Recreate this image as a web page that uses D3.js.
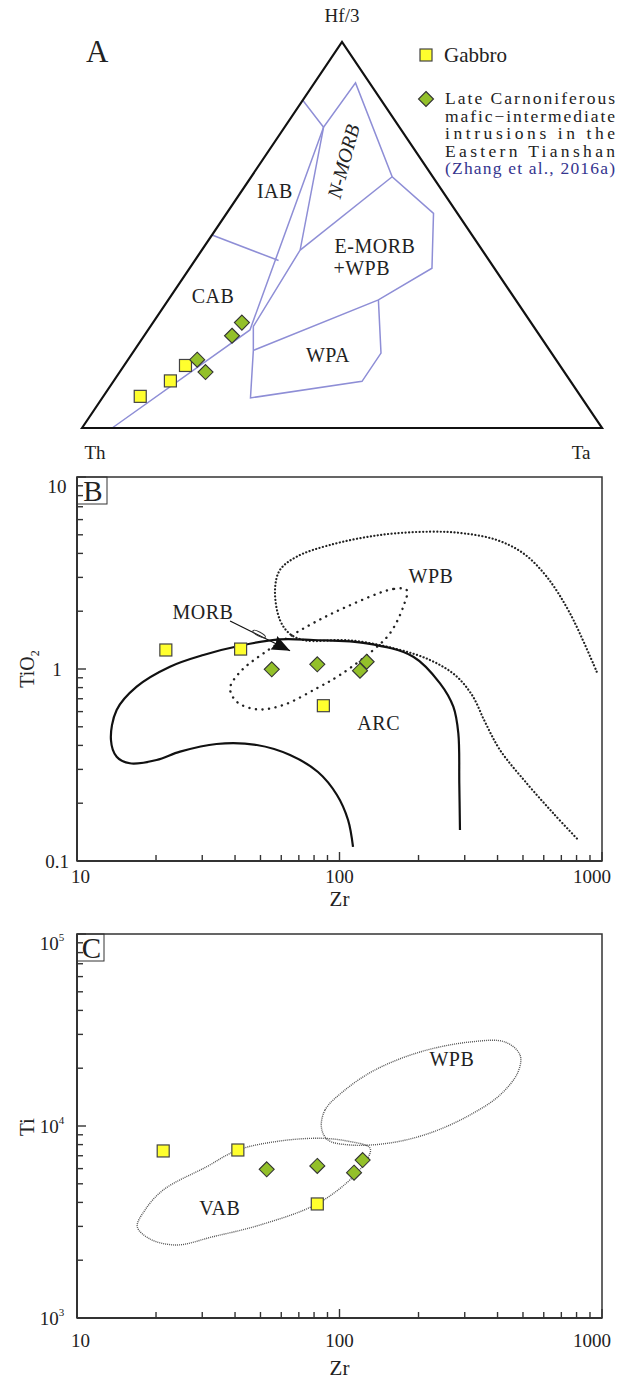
<!DOCTYPE html>
<html>
<head>
<meta charset="utf-8">
<script src="https://cdn.jsdelivr.net/npm/d3@7/dist/d3.min.js"></script>
<style>
body { margin: 0; background: #fff; }
svg text { font-family: "Liberation Serif", "Times New Roman", serif; fill: #222; }
</style>
</head>
<body>
<script>
// ---------- data ----------
// A: ternary points as [Th, Hf/3, Ta] fractions
var ternGabbro = [[0.847, 0.082, 0.071], [0.769, 0.122, 0.109], [0.72, 0.162, 0.118]];
var ternIntrusion = [[0.69, 0.177, 0.133], [0.69, 0.145, 0.165], [0.592, 0.239, 0.169], [0.556, 0.273, 0.171]];

// A: field boundaries (Wood 1980), each a polyline of [Th, Hf/3, Ta]
var ternFields = [
  [[0.942, 0, 0.058], [0.55, 0.254, 0.196], [0.146, 0.779, 0.075]],
  [[0.151, 0.849, 0], [0.146, 0.779, 0.075], [0.027, 0.894, 0.079], [0.078, 0.651, 0.271],
   [0.046, 0.556, 0.398], [0.12, 0.414, 0.466], [0.264, 0.332, 0.404], [0.57, 0.201, 0.229]],
  [[0.146, 0.779, 0.075], [0.35, 0.461, 0.189], [0.539, 0.263, 0.198], [0.57, 0.201, 0.229],
   [0.637, 0.078, 0.285], [0.401, 0.121, 0.478], [0.328, 0.194, 0.478], [0.264, 0.332, 0.404]],
  [[0.078, 0.651, 0.271], [0.35, 0.461, 0.189]],
  [[0.5, 0.5, 0], [0.405, 0.434, 0.161]]
];
var ternLabels = ['IAB', 'CAB', 'E-MORB', '+WPB', 'WPA'];
var ternLabelPos = [[0.331, 0.596, 0.073], [0.586, 0.324, 0.09], [0.21, 0.453, 0.337], [0.264, 0.396, 0.34], [0.4415, 0.171, 0.3875]];
var nMorbPos = [0.155, 0.6865, 0.159];

// B: Zr vs TiO2
var zrGabbroB = [21.8, 42.0, 86.8];
var tio2Gabbro = [1.256, 1.27, 0.644];
var zrIntrB = [55.2, 82.3, 126.9, 119.7];
var tio2Intr = [0.996, 1.058, 1.091, 0.98];

var arcLine = [[112.6, 0.1183], [107.8, 0.1635], [97.8, 0.2207], [82.8, 0.2907], [64.8, 0.3565], [48.4, 0.4019],
  [34.0, 0.4068], [24.7, 0.371], [20.1, 0.3357], [15.9, 0.3228], [14.16, 0.3494], [13.47, 0.4268], [14.16, 0.6114],
  [16.88, 0.809], [22.6, 1.028], [30.3, 1.183], [43.0, 1.334], [59.3, 1.428], [79.5, 1.416], [126.9, 1.361],
  [191.0, 1.159], [241.5, 0.842], [271.4, 0.636], [283.6, 0.4625], [286.0, 0.254], [287.7, 0.145]];
var wpbLineB = [[954.5, 0.968], [755.1, 1.95], [615.6, 3.025], [501.4, 4.005], [397.2, 4.698], [296.2, 5.09],
  [221.2, 5.19], [142.7, 4.99], [92.0, 4.425], [68.7, 3.846], [59.3, 3.279], [56.8, 2.579], [59.3, 1.80],
  [64.8, 1.521], [73.9, 1.41], [109.6, 1.41], [165.2, 1.27], [221.2, 1.114], [275.4, 0.9306], [319.7, 0.7321],
  [358.4, 0.5296], [408.7, 0.3786], [516.6, 0.254], [652.4, 0.1772], [812.4, 0.1286]];
var morbLoop = [[180.3, 2.579], [160.3, 2.61], [106.5, 2.111], [75.0, 1.661], [51.3, 1.207], [41.8, 0.9647],
  [38.3, 0.7935], [40.6, 0.6755], [48.4, 0.6166], [61.1, 0.6494], [81.9, 0.7935], [100.4, 0.9306],
  [134.5, 1.256], [155.7, 1.534], [175.0, 2.111]];
var morbArrow = [[38.3, 1.778], [64.8, 1.245]];
var labelsB = [['MORB', 30.2, 1.83], ['WPB', 223, 2.82], ['ARC', 141, 0.48]];

// C: Zr vs Ti
var zrGabbroC = [21.3, 41.0, 82.3];
var tiGabbro = [7413, 7499, 3926];
var zrIntrC = [52.8, 82.3, 122.5, 113.6];
var tiIntr = [5948, 6194, 6650, 5711];

var vabLoop = [[16.97, 2989], [18.97, 2579], [23.98, 2400], [32.96, 2651], [49.8, 3051], [82.0, 3926],
  [112.9, 5445], [128.4, 6813], [130.6, 7681], [106.8, 8353], [84.3, 8630], [59.3, 8353], [41.0, 7499],
  [31.2, 6138], [21.3, 4642], [18.16, 3651]];
var wpbLoopC = [[85.4, 9763], [88.1, 12115], [104.9, 15399], [136.5, 19573], [202.6, 24290], [314.1, 27384],
  [427.0, 27384], [487.2, 23428], [478.6, 19110], [408.7, 14502], [314.1, 11410], [221.2, 9194],
  [155.7, 8157], [109.6, 7964], [90.4, 8455]];
var labelsC = [['VAB', 35, 3450], ['WPB', 268, 20600]];

var legendLines = ['Late Carnoniferous', 'mafic\u2212intermediate', 'intrusions in the', 'Eastern Tianshan'];
var legendRef = '(Zhang et al., 2016a)';

// ---------- styles ----------
var yellow = '#ffff2e', green = '#93c02a', fieldBlue = '#8e8ed6';

var svg = d3.select('body').append('svg')
  .attr('width', 619).attr('height', 1381);

function square(g, x, y) {
  g.append('rect').attr('x', x - 6).attr('y', y - 6).attr('width', 12).attr('height', 12)
    .attr('fill', yellow).attr('stroke', '#444').attr('stroke-width', 1.2);
}
function diamond(g, x, y) {
  g.append('path').attr('d', 'M' + x + ',' + (y - 7.5) + 'L' + (x + 7.5) + ',' + y + 'L' + x + ',' + (y + 7.5) + 'L' + (x - 7.5) + ',' + y + 'Z')
    .attr('fill', green).attr('stroke', '#333').attr('stroke-width', 1.1);
}

// ---------- A: ternary ----------
var cTh = [82, 428], cHf = [342, 42], cTa = [602, 428];
function tern(d) {
  var s = d[0] + d[1] + d[2];
  return [(d[0] * cTh[0] + d[1] * cHf[0] + d[2] * cTa[0]) / s,
          (d[0] * cTh[1] + d[1] * cHf[1] + d[2] * cTa[1]) / s];
}
var gA = svg.append('g');
var ternLine = d3.line().x(function(d){ return tern(d)[0]; }).y(function(d){ return tern(d)[1]; });

gA.selectAll('path.field').data(ternFields).enter().append('path')
  .attr('d', ternLine).attr('fill', 'none').attr('stroke', fieldBlue).attr('stroke-width', 1.5);

gA.append('path').attr('d', 'M' + cTh + 'L' + cHf + 'L' + cTa + 'Z')
  .attr('fill', 'none').attr('stroke', '#111').attr('stroke-width', 2.2).attr('stroke-linejoin', 'miter');

ternLabels.forEach(function(t, i){
  var p = tern(ternLabelPos[i]);
  gA.append('text').attr('x', p[0]).attr('y', p[1]).attr('text-anchor', 'middle')
    .attr('font-size', 20).attr('letter-spacing', 0.5).text(t);
});
var nm = tern(nMorbPos);
gA.append('text').attr('transform', 'translate(' + (nm[0] + 7) + ',' + nm[1] + ') rotate(-75)')
  .attr('text-anchor', 'middle').attr('font-size', 20).attr('font-style', 'italic').text('N-MORB');

ternGabbro.forEach(function(d){ var p = tern(d); square(gA, p[0], p[1]); });
ternIntrusion.forEach(function(d){ var p = tern(d); diamond(gA, p[0], p[1]); });

gA.append('text').attr('x', 86).attr('y', 62).attr('font-size', 31).text('A');
gA.append('text').attr('x', 342).attr('y', 22).attr('text-anchor', 'middle').attr('font-size', 19).text('Hf/3');
gA.append('text').attr('x', 95).attr('y', 459).attr('text-anchor', 'middle').attr('font-size', 19).text('Th');
gA.append('text').attr('x', 581).attr('y', 459).attr('text-anchor', 'middle').attr('font-size', 19).text('Ta');

// legend
square(gA, 426, 55);
gA.append('text').attr('x', 444).attr('y', 62).attr('font-size', 21).text('Gabbro');
diamond(gA, 426, 99);
legendLines.forEach(function(t, i){
  gA.append('text').attr('x', 445).attr('y', 104 + i * 17.5).attr('font-size', 17.5)
    .attr('textLength', 170).attr('lengthAdjust', 'spacing').text(t);
});
gA.append('text').attr('x', 445).attr('y', 104 + 4 * 17.5).attr('font-size', 17.5)
  .attr('textLength', 170).attr('lengthAdjust', 'spacing').style('fill', '#35358f').text(legendRef);

// ---------- log panels ----------
function logFrame(g, x, y, opts) {
  var x0 = x.range()[0], x1 = x.range()[1], y0 = y.range()[0], y1 = y.range()[1];
  g.append('rect').attr('x', x0).attr('y', y1).attr('width', x1 - x0).attr('height', y0 - y1)
    .attr('fill', 'none').attr('stroke', '#333').attr('stroke-width', 1.5);
  var isMajor = function(v){ return Math.abs(Math.log10(v) - Math.round(Math.log10(v))) < 1e-6; };
  var xt = x.ticks(), yt = y.ticks();
  var ax = g.append('g').attr('stroke', '#333').attr('stroke-width', 1.4);
  xt.forEach(function(v){
    var len = isMajor(v) ? 9 : 6;
    ax.append('line').attr('x1', x(v)).attr('x2', x(v)).attr('y1', y0).attr('y2', y0 - len);
  });
  yt.forEach(function(v){
    var len = isMajor(v) ? 9 : 6;
    ax.append('line').attr('x1', x0).attr('x2', x0 + len).attr('y1', y(v)).attr('y2', y(v));
  });
  ax.append('line').attr('x1', x0).attr('x2', x0).attr('y1', y0).attr('y2', y1).attr('stroke-width', 2);
  ax.append('line').attr('x1', x0).attr('x2', x1).attr('y1', y0).attr('y2', y0).attr('stroke-width', 2);

  var xm = xt.filter(isMajor);
  xm.forEach(function(v, i){
    var anchor = i === 0 ? 'start' : (i === xm.length - 1 ? 'end' : 'middle');
    var dx = i === 0 ? -6 : (i === xm.length - 1 ? 9 : 0);
    g.append('text').attr('x', x(v) + dx).attr('y', y0 + opts.tickY).attr('text-anchor', anchor)
      .attr('font-size', 19).text(d3.format('d')(v));
  });
  var ym = yt.filter(isMajor);
  ym.forEach(function(v, i){
    var yy = y(v) + 7 + (i === ym.length - 1 ? 9 : 0);
    var t = g.append('text').attr('x', opts.power ? 52 : 57).attr('y', yy).attr('text-anchor', 'middle').attr('font-size', 19);
    if (opts.power) {
      t.text('10').append('tspan').attr('font-size', 11).attr('dy', -9).text(Math.round(Math.log10(v)));
    } else {
      t.text(v < 1 ? '0.1' : d3.format('d')(v));
    }
  });
  // panel letter
  g.append('rect').attr('x', x0).attr('y', y1).attr('width', opts.box).attr('height', 27)
    .attr('fill', 'none').attr('stroke', '#333').attr('stroke-width', 1);
  g.append('text').attr('x', x0 + opts.box / 2 + 1).attr('y', y1 + 24).attr('text-anchor', 'middle')
    .attr('font-size', 29).text(opts.letter);
  g.append('text').attr('x', (x0 + x1) / 2).attr('y', y0 + opts.titleY).attr('text-anchor', 'middle')
    .attr('font-size', 21).text('Zr');
}

// ---------- B ----------
var xB = d3.scaleLog().domain([10, 1000]).range([77, 602]);
var yB = d3.scaleLog().domain([0.1, 10]).range([861, 477]);
var gB = svg.append('g');
logFrame(gB, xB, yB, { letter: 'B', box: 30, power: false, tickY: 22, titleY: 45 });

var lineB = d3.line().x(function(d){ return xB(d[0]); }).y(function(d){ return yB(d[1]); });
gB.append('path').attr('d', lineB.curve(d3.curveCatmullRom.alpha(0.5))(wpbLineB))
  .attr('fill', 'none').attr('stroke', '#222').attr('stroke-width', 2.2)
  .attr('stroke-dasharray', '0.1,3.4').attr('stroke-linecap', 'round');
gB.append('path').attr('d', lineB.curve(d3.curveCatmullRomClosed.alpha(0.5))(morbLoop))
  .attr('fill', 'none').attr('stroke', '#222').attr('stroke-width', 2.4)
  .attr('stroke-dasharray', '0.1,6.5').attr('stroke-linecap', 'round');
gB.append('path').attr('d', lineB.curve(d3.curveCatmullRom.alpha(0.5))(arcLine))
  .attr('fill', 'none').attr('stroke', '#111').attr('stroke-width', 2.2);

// MORB arrow
svg.append('defs').append('marker').attr('id', 'ah').attr('markerUnits', 'userSpaceOnUse')
  .attr('markerWidth', 22).attr('markerHeight', 18).attr('refX', 18).attr('refY', 7.5)
  .attr('orient', 'auto').append('path').attr('d', 'M0,0L18,7.5L0,15L2,7.5Z').attr('fill', '#111');
gB.append('path').attr('d', lineB.curve(d3.curveLinear)(morbArrow))
  .attr('fill', 'none').attr('stroke', '#111').attr('stroke-width', 1.2).attr('marker-end', 'url(#ah)');
var fl = [xB(49.4), yB(1.521)];
gB.append('ellipse').attr('cx', fl[0]).attr('cy', fl[1]).attr('rx', 7).attr('ry', 2)
  .attr('transform', 'rotate(28,' + fl[0] + ',' + fl[1] + ')')
  .attr('fill', 'none').attr('stroke', '#333').attr('stroke-width', 1);

labelsB.forEach(function(l){
  gB.append('text').attr('x', xB(l[1])).attr('y', yB(l[2])).attr('text-anchor', 'middle')
    .attr('font-size', 20).attr('letter-spacing', 0.5).text(l[0]);
});
zrGabbroB.forEach(function(v, i){ square(gB, xB(v), yB(tio2Gabbro[i])); });
zrIntrB.forEach(function(v, i){ diamond(gB, xB(v), yB(tio2Intr[i])); });

gB.append('text').attr('transform', 'translate(34,669) rotate(-90)').attr('text-anchor', 'middle')
  .attr('font-size', 20).text('TiO').append('tspan').attr('font-size', 12).attr('dy', 5).text('2');

// ---------- C ----------
var xC = d3.scaleLog().domain([10, 1000]).range([77, 602]);
var yC = d3.scaleLog().domain([1e3, 1e5]).range([1318, 934]);
var gC = svg.append('g');
logFrame(gC, xC, yC, { letter: 'C', box: 27, power: true, tickY: 29, titleY: 57 });

var lineC = d3.line().x(function(d){ return xC(d[0]); }).y(function(d){ return yC(d[1]); })
  .curve(d3.curveCatmullRomClosed.alpha(0.5));
[vabLoop, wpbLoopC].forEach(function(f){
  gC.append('path').attr('d', lineC(f)).attr('fill', 'none').attr('stroke', '#555')
    .attr('stroke-width', 1.4).attr('stroke-dasharray', '1,1');
});
labelsC.forEach(function(l){
  gC.append('text').attr('x', xC(l[1])).attr('y', yC(l[2])).attr('text-anchor', 'middle')
    .attr('font-size', 20).attr('letter-spacing', 0.5).text(l[0]);
});
zrGabbroC.forEach(function(v, i){ square(gC, xC(v), yC(tiGabbro[i])); });
zrIntrC.forEach(function(v, i){ diamond(gC, xC(v), yC(tiIntr[i])); });

gC.append('text').attr('transform', 'translate(34,1127) rotate(-90)').attr('text-anchor', 'middle')
  .attr('font-size', 21).text('Ti');
</script>
</body>
</html>
